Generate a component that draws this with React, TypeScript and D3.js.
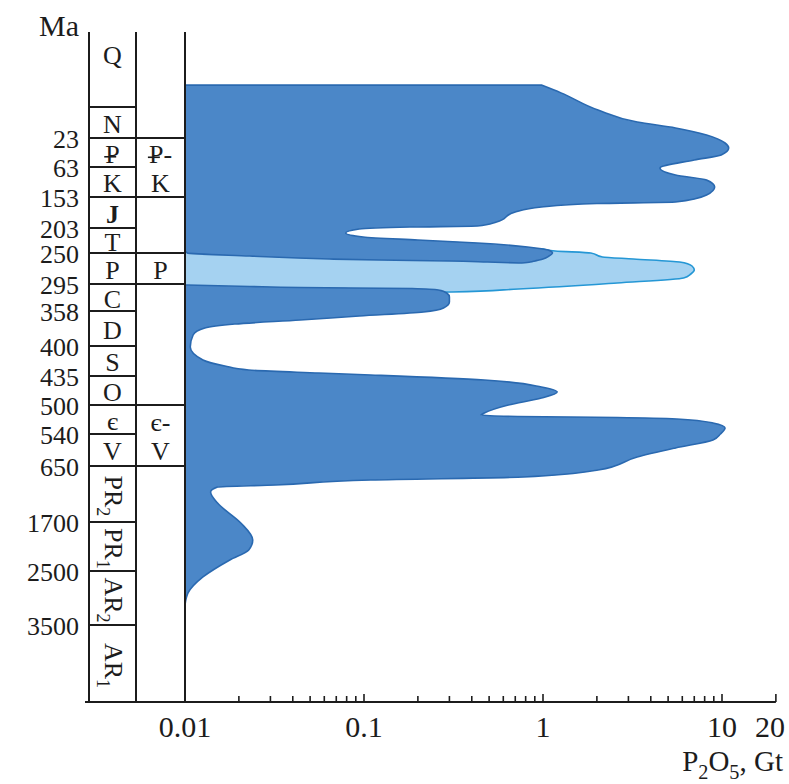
import React from 'react';
import * as d3 from 'd3';

// stratigraphic column, Ma (top of Q to base of AR1)
const boundaryAges = [0, 2.6, 23, 63, 153, 203, 250, 295, 358, 400, 435, 500, 540, 650, 1700, 2500, 3500, 4600];
const periods = ['Q', 'N', 'Ᵽ', 'K', 'J', 'T', 'P', 'C', 'D', 'S', 'O', 'є', 'V', 'PR₂', 'PR₁', 'AR₂', 'AR₁'];
const ageLabels = [23, 63, 153, 203, 250, 295, 358, 400, 435, 500, 540, 650, 1700, 2500, 3500];
const groupLabels = [['Ᵽ-', 'K'], ['P'], ['є-', 'V']];
const groupSpans = [[23, 153], [250, 295], [500, 650]];
const xTickLabels = [0.01, 0.1, 1, 10, 20];

// P2O5 reserves, Gt: [age Ma, left bound, right bound]
const upperDeposit = [
  [1.84, 0.01, 0.98], [2.11, 0.01, 1.26], [4.6, 0.01, 2.03], [12.5, 0.01, 3.36],
  [16.4, 0.01, 5.5], [21.0, 0.01, 8.2], [29.9, 0.01, 10.4], [36.8, 0.01, 10.9],
  [46.4, 0.01, 9.9], [53.3, 0.01, 7.0], [66, 0.01, 4.5], [87, 0.01, 5.5],
  [102, 0.01, 8.2], [123, 0.01, 9.1], [147, 0.01, 8.2], [161.1, 0.01, 5.5],
  [163.5, 0.01, 2.0], [169.1, 0.01, 0.98], [177.2, 0.01, 0.7], [193.3, 0.01, 0.55],
  [199.8, 0.01, 0.43], [201.4, 0.01, 0.18], [204.9, 0.01, 0.094], [212.4, 0.01, 0.079],
  [219.9, 0.01, 0.099], [225.6, 0.01, 0.2], [231.2, 0.01, 0.43], [238.7, 0.01, 0.82],
  [244.4, 0.01, 1.07], [250, 0.0103, 1.13], [254.4, 0.023, 1.08], [258.7, 0.064, 1.0],
  [260.2, 0.121, 0.95], [261.6, 0.3, 0.9], [263.1, 0.49, 0.85], [264.5, 0.73, 0.76],
];

// Permian (light) body: [age Ma, Gt]
const permianDeposit = [
  [242.5, 1.0], [246.2, 1.17], [250, 1.85], [255.8, 2.15], [258.7, 3.2], [263.1, 5.8],
  [268.9, 6.8], [274.7, 7.0], [280.5, 6.7], [286.3, 6.1], [293.5, 2.6], [306.7, 0.73],
  [313.7, 0.31], [318.3, 0.044],
];

// Carboniferous to Archean: [age Ma, Gt]
const lowerDeposit = [
  [297.3, 0.0103], [300.8, 0.023], [303.2, 0.044], [305.5, 0.186], [309, 0.26], [316, 0.29],
  [325.3, 0.3], [337, 0.3], [351, 0.278], [359.2, 0.215], [364, 0.094], [368.8, 0.044],
  [373.6, 0.019], [378.4, 0.0129], [386.8, 0.0111], [401.2, 0.0107], [416.3, 0.0126],
  [423.3, 0.0167], [428, 0.0227], [431.5, 0.056], [433.8, 0.109], [444, 0.47], [459.7, 0.98],
  [470.9, 1.2], [484.3, 0.98], [500, 0.64], [511, 0.47], [513.8, 0.45], [515.9, 0.72],
  [517.2, 2.6], [519.3, 5.6], [524.8, 8.9], [531.7, 10.4], [540, 9.8], [560.6, 8.9],
  [588, 5.5], [619, 3.36], [725, 2.03], [856, 0.78], [912.5, 0.109], [1006, 0.032],
  [1044, 0.0152], [1137.5, 0.0139], [1344, 0.0152], [1716, 0.0205], [1994, 0.0239],
  [2157, 0.0227], [2320, 0.0178], [2611, 0.0126], [2907, 0.0104], [3130, 0.01],
];

const W = 789;
const H = 784;
const col1 = [89, 136];
const col2 = [136, 185];
const rowY = [32, 107, 138, 167, 197, 228, 253, 284, 311, 346, 376, 405, 434, 466, 522, 571, 625, 702];
const axisY = 702;
const ink = '#1c1c1c';
const SUBS = '₀₁₂₃₄₅₆₇₈₉';

// text with unicode subscripts turned into tspans, Ᵽ drawn as P with a bar
const Label = ({ text, x, y, size, anchor = 'middle', weight = 'normal', transform }: any) => {
  const parts: { t: string; sub: boolean }[] = [];
  for (const ch of text) {
    const sub = SUBS.includes(ch);
    const c = sub ? String(SUBS.indexOf(ch)) : ch === 'Ᵽ' ? 'P' : ch;
    const last = parts[parts.length - 1];
    if (last && last.sub === sub) last.t += c;
    else parts.push({ t: c, sub });
  }
  let shift = 0;
  const spans = parts.map((p, i) => {
    const target = p.sub ? size * 0.28 : 0;
    const dy = target - shift;
    shift = target;
    return (
      <tspan key={i} dy={dy} fontSize={p.sub ? size * 0.7 : size}>{p.t}</tspan>
    );
  });
  let bar = null;
  if (text.startsWith('Ᵽ')) {
    const w = text.length > 1 ? 0.889 : 0.556;
    const left = anchor === 'middle' ? x - (w * size) / 2 : x;
    bar = (
      <line x1={left - 0.04 * size} x2={left + 0.42 * size} y1={y - 0.22 * size} y2={y - 0.22 * size}
        stroke={ink} strokeWidth={1.6} />
    );
  }
  return (
    <g transform={transform}>
      <text x={x} y={y} textAnchor={anchor} fontSize={size} fontWeight={weight} fill={ink}>{spans}</text>
      {bar}
    </g>
  );
};

const App = () => {
  const x = d3.scaleLog().domain([0.01, 10]).range([185, 722]);
  const y = d3.scaleLinear().domain(boundaryAges).range(rowY);

  const upperArea = d3.area<number[]>()
    .y(d => y(d[0]))
    .x0(d => x(d[1]))
    .x1(d => x(d[2]))
    .curve(d3.curveMonotoneY);
  const bodyArea = d3.area<number[]>()
    .y(d => y(d[0]))
    .x0(x(0.01))
    .x1(d => x(d[1]))
    .curve(d3.curveMonotoneY);

  const ticks = d3.scaleLog().domain([0.01, 20]).ticks().filter(v => v > 0.0101);
  const isMajor = (v: number) => v === 20 || Math.abs(Math.log10(v) - Math.round(Math.log10(v))) < 1e-6;

  const top = rowY[0];

  return (
    <svg width={W} height={H} style={{ position: 'absolute', left: 0, top: 0, background: '#fff' }}
      fontFamily="'Liberation Serif', 'Times New Roman', serif">
      {/* deposits */}
      <path d={bodyArea(permianDeposit) || ''} fill="#a5d2f1" stroke="#2597d5" strokeWidth={1.6} />
      <path d={upperArea(upperDeposit) || ''} fill="#4b87c8" stroke="#2a69b0" strokeWidth={1.6} />
      <path d={bodyArea(lowerDeposit) || ''} fill="#4b87c8" stroke="#2a69b0" strokeWidth={1.6} />

      {/* column frame */}
      {[col1[0], col1[1], col2[1]].map(cx => (
        <line key={cx} x1={cx} x2={cx} y1={top} y2={axisY} stroke={ink} strokeWidth={2} />
      ))}
      {boundaryAges.slice(1, -1).map(a => (
        <line key={a} x1={col1[0]} x2={col1[1]} y1={y(a)} y2={y(a)} stroke={ink} strokeWidth={2} />
      ))}
      {groupSpans.flat().map(a => (
        <line key={'g' + a} x1={col2[0]} x2={col2[1]} y1={y(a)} y2={y(a)} stroke={ink} strokeWidth={2} />
      ))}

      {/* period names */}
      {periods.map((p, i) => {
        const y0 = y(boundaryAges[i]);
        const y1 = y(boundaryAges[i + 1]);
        const cx = (col1[0] + col1[1]) / 2;
        if (p.length > 2) {
          const cy = (y0 + y1) / 2 + 2;
          return (
            <Label key={p} text={p} x={0} y={9} size={26}
              transform={`translate(${cx + 1},${cy}) rotate(90)`} />
          );
        }
        const cy = Math.min((y0 + y1) / 2, y0 + 22);
        return (
          <Label key={p} text={p} x={cx} y={cy + 10} size={26} weight={p === 'J' ? 'bold' : 'normal'} />
        );
      })}
      {groupLabels.map((lines, i) => {
        const cy = (y(groupSpans[i][0]) + y(groupSpans[i][1])) / 2;
        const cx = (col2[0] + col2[1]) / 2;
        return lines.map((t, j) => (
          <Label key={t} text={t} x={cx} size={26}
            y={cy + 10 - ((lines.length - 1) * 29) / 2 + j * 29} />
        ));
      })}

      {/* age labels */}
      <text x={79} y={36} textAnchor="end" fontSize={30} fill={ink}>Ma</text>
      {ageLabels.map(a => (
        <text key={a} x={79} y={y(a) + 10} textAnchor="end" fontSize={26} fill={ink}>{a}</text>
      ))}

      {/* x axis */}
      <line x1={85} x2={x(20)} y1={axisY} y2={axisY} stroke={ink} strokeWidth={2} />
      {ticks.map(v => (
        <line key={v} x1={x(v)} x2={x(v)} y1={axisY} y2={axisY - (isMajor(v) ? 8 : 6)}
          stroke={ink} strokeWidth={1.6} />
      ))}
      {xTickLabels.map(v => (
        <text key={v} x={v === 20 ? x(v) + 9 : x(v)} y={737} textAnchor={v === 20 ? 'end' : 'middle'}
          fontSize={30} fill={ink}>{String(v)}</text>
      ))}
      <Label text="P₂O₅, Gt" x={783} y={771} size={29} anchor="end" />
    </svg>
  );
};

export default App;
